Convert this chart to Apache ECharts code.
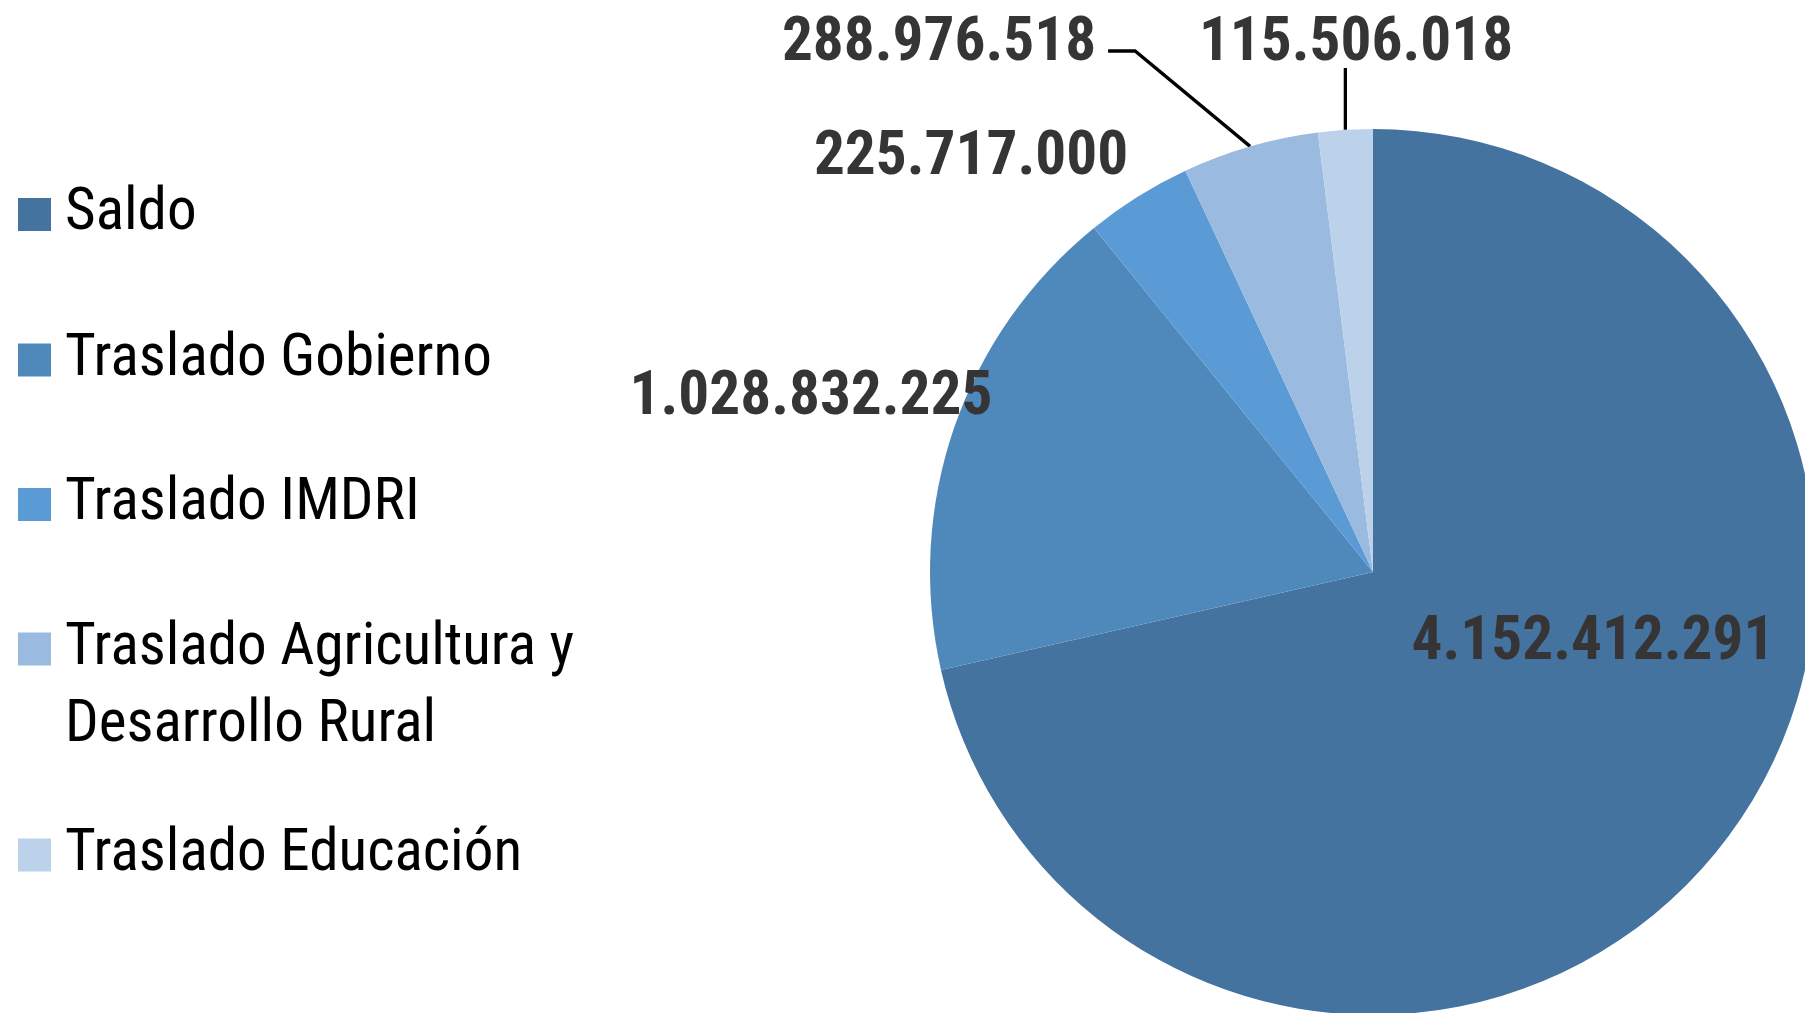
<!DOCTYPE html>
<html>
<head>
<meta charset="utf-8">
<script src="https://cdn.jsdelivr.net/npm/echarts@6/dist/echarts.min.js"></script>
<style>html,body{margin:0;padding:0;background:#fff}#main{width:1805px;height:1013px}</style>
</head>
<body>
<div id="main"></div>
<script>
// data
var names = ['Saldo', 'Traslado Gobierno', 'Traslado IMDRI', 'Traslado Agricultura y Desarrollo Rural', 'Traslado Educación'];
var values = [4152412291, 1028832225, 225717000, 288976518, 115506018];
var colors = ['#44739f', '#4f89bc', '#5b9bd5', '#9bbadf', '#bcd1ea'];

// layout
var cx = 1373, cy = 572, R = 443;
var labelAt = [[1593, 644], [811, 399], [971, 159], [939, 45], [1356, 45]];
var legendTop = [176, 321.5, 466, 533.5, 816.5];

// pick a narrow font if there is one
var ctx = document.createElement('canvas').getContext('2d');
function tw(font, s) { ctx.font = '10px serif'; ctx.font = font; return ctx.measureText(s).width; }
var S = 'Traslado Gobierno 288.976.518';
function has(f) {
    return tw('62px "' + f + '", monospace', S) !== tw('62px monospace', S) ||
        tw('62px "' + f + '", serif', S) !== tw('62px serif', S);
}
var fam = 'Roboto', stretch = '';
if (has('Roboto Condensed')) { fam = 'Roboto Condensed'; }
else if (tw('condensed 62px Roboto', S) < 0.95 * tw('62px Roboto', S)) { stretch = 'condensed'; }
else if (has('Liberation Sans Narrow')) { fam = 'Liberation Sans Narrow'; }
else if (tw('condensed 62px "Open Sans"', S) < 0.95 * tw('62px "Open Sans"', S)) { fam = 'Open Sans'; stretch = 'condensed'; }
else if (has('DejaVu Sans Condensed')) { fam = 'DejaVu Sans Condensed'; }
var wNorm = stretch || 'normal';
var wBold = 'bold' + (stretch ? ' ' + stretch : '');
var legSize = Math.min(64, 62 * 427 / tw(wNorm + ' 62px "' + fam + '"', 'Traslado Gobierno'));
var labSize = Math.min(66, 62 * 363 / tw(wBold + ' 62px "' + fam + '"', '4.152.412.291'));

function fmt(v) { return String(v).replace(/\B(?=(\d{3})+(?!\d))/g, '.'); }

var total = values.reduce(function (a, b) { return a + b; }, 0);
function edgePoint(i) {
    var before = 0;
    for (var k = 0; k < i; k++) before += values[k];
    var a = (before + values[i] / 2) / total * Math.PI * 2;
    return [cx + R * Math.sin(a), cy - R * Math.cos(a)];
}

var dom = document.getElementById('main');
var myChart = echarts.init(dom);
var option = {
    animation: false,
    backgroundColor: '#fff',
    legend: names.map(function (n, i) {
        return {
            data: [n],
            left: 18,
            top: legendTop[i],
            padding: 0,
            icon: 'rect',
            itemWidth: 33,
            itemHeight: 33,
            selectedMode: false,
            // long name: empty first line so the first real line sits by the icon
            formatter: function (name) { return name.indexOf(' y ') > 0 ? '\n' + name.replace(' y ', ' y\n') : name; },
            textStyle: {
                color: '#000',
                fontFamily: fam,
                fontWeight: wNorm,
                fontSize: legSize,
                lineHeight: 77,
                padding: [0, 0, 0, 9]
            }
        };
    }),
    series: [{
        type: 'pie',
        center: [cx, cy],
        radius: R,
        startAngle: 90,
        clockwise: true,
        avoidLabelOverlap: false,
        emphasis: { disabled: true },
        itemStyle: { borderWidth: 0 },
        label: {
            show: true,
            position: 'outside',
            formatter: function (p) { return fmt(p.value); },
            color: '#363435',
            fontFamily: fam,
            fontWeight: wBold,
            fontSize: labSize
        },
        labelLine: { show: true, lineStyle: { color: '#000', width: 3.3 } },
        labelLayout: function (p) {
            var i = p.dataIndex, at = labelAt[i];
            var out = { x: at[0], y: at[1], align: 'center', verticalAlign: 'middle' };
            if (i === 3) {
                var s = edgePoint(i);
                var ex = at[0] + p.labelRect.width / 2 + 12;
                out.labelLinePoints = [s, [ex + 27, at[1] + 6], [ex, at[1] + 6]];
            }
            if (i === 4) {
                var s2 = edgePoint(i);
                out.labelLinePoints = [s2, [s2[0], at[1] + 23]];
            }
            return out;
        },
        data: names.map(function (n, i) {
            return {
                name: n,
                value: values[i],
                itemStyle: { color: colors[i] },
                labelLine: { show: i >= 3 }
            };
        })
    }]
};
if (option && typeof option === 'object') {
    myChart.setOption(option, true);
}
</script>
</body>
</html>
